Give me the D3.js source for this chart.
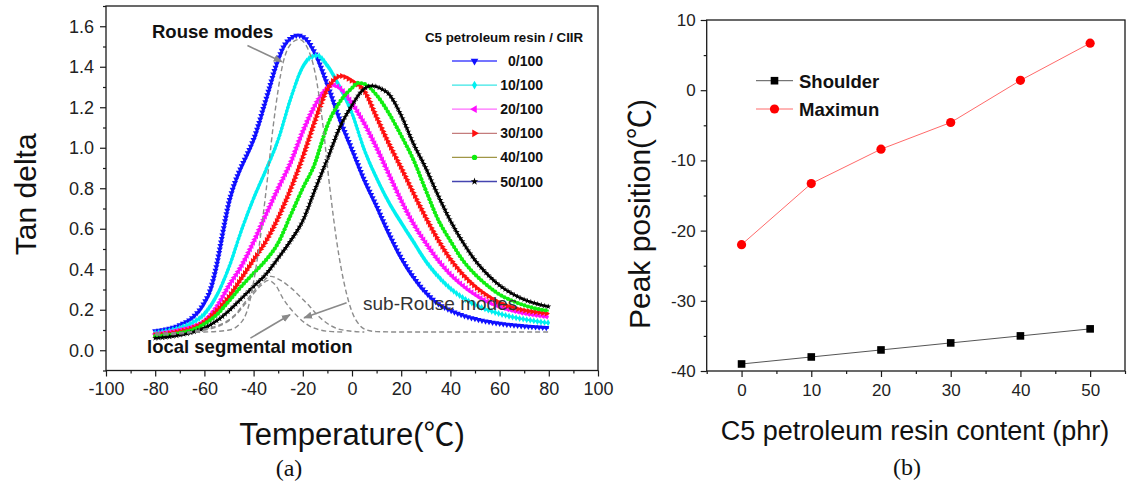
<!DOCTYPE html>
<html><head><meta charset="utf-8">
<script src="https://cdn.jsdelivr.net/npm/d3@7/dist/d3.min.js"></script>
<style>
html,body{margin:0;padding:0;background:#fff;}
svg{display:block;}
text{font-family:"Liberation Sans",Arial,"Noto Sans CJK SC",sans-serif;}
</style></head><body>
<svg id="chart" width="1128" height="484"></svg>
<script>
// ---------------- DATA (panel a) ----------------
const seriesNames = ["0/100","10/100","20/100","30/100","40/100","50/100"];
const temp0 = [-80,-75,-70,-65,-60,-57.5,-55,-52.5,-50,-47.5,-45,-42.5,-40,-35,-30,-27.5,-25,-22,-19,-15,-10,-5,0,5,10,15,20,25,30,35,40,45,50,55,60,65,70,75,80];
const tan0  = [0.095,0.105,0.125,0.16,0.235,0.3,0.42,0.58,0.73,0.83,0.905,0.97,1.04,1.235,1.435,1.505,1.54,1.555,1.54,1.465,1.31,1.14,0.99,0.84,0.71,0.575,0.455,0.36,0.285,0.23,0.197,0.172,0.155,0.142,0.132,0.125,0.119,0.114,0.11];
const temp1 = [-80,-75,-70,-65,-60,-55,-50,-45,-40,-35,-30,-25,-20,-17,-14,-10,-5,0,5,10,15,20,25,30,35,40,45,50,55,60,65,70,75,80];
const tan1  = [0.085,0.095,0.11,0.135,0.18,0.27,0.41,0.59,0.75,0.89,1.04,1.24,1.40,1.445,1.455,1.405,1.30,1.17,0.99,0.85,0.73,0.63,0.535,0.44,0.365,0.305,0.26,0.225,0.2,0.18,0.165,0.153,0.143,0.135];
const temp2 = [-80,-75,-70,-65,-60,-55,-50,-45,-40,-35,-30,-25,-20,-15,-11,-8,-5,0,5,10,15,20,25,30,35,40,45,50,55,60,65,70,75,80];
const tan2  = [0.08,0.088,0.1,0.115,0.145,0.214,0.32,0.415,0.535,0.67,0.8,0.925,1.08,1.21,1.285,1.31,1.295,1.22,1.12,1.0,0.87,0.74,0.625,0.53,0.445,0.375,0.32,0.275,0.24,0.215,0.197,0.183,0.173,0.165];
const temp3 = [-80,-75,-70,-65,-60,-55,-50,-45,-40,-35,-30,-25,-20,-15,-10,-7,-4.5,-2,0,5,10,15,20,25,30,35,40,45,50,55,60,65,70,75,80];
const tan3  = [0.075,0.082,0.093,0.108,0.14,0.195,0.265,0.355,0.447,0.538,0.655,0.795,0.955,1.135,1.29,1.34,1.355,1.345,1.33,1.28,1.15,1.02,0.9,0.775,0.655,0.545,0.45,0.375,0.315,0.27,0.235,0.212,0.197,0.188,0.18];
const temp4 = [-80,-75,-70,-65,-60,-55,-50,-45,-40,-35,-30,-25,-20,-15,-12.5,-10,-5,0,2.5,5,10,15,20,25,30,35,40,45,50,55,60,65,70,75,80];
const tan4  = [0.07,0.075,0.085,0.1,0.13,0.175,0.243,0.315,0.38,0.445,0.53,0.665,0.8,0.925,1.02,1.11,1.225,1.295,1.32,1.315,1.26,1.17,1.06,0.94,0.79,0.645,0.54,0.445,0.375,0.32,0.275,0.245,0.222,0.205,0.195];
const temp5 = [-80,-75,-70,-65,-60,-55,-50,-45,-40,-35,-30,-25,-20,-15,-10,-5,0,4,8,12,15,20,25,30,35,40,45,50,55,60,65,70,75,80];
const tan5  = [0.06,0.065,0.075,0.088,0.11,0.145,0.195,0.255,0.315,0.375,0.455,0.54,0.64,0.795,0.945,1.1,1.21,1.28,1.306,1.29,1.265,1.16,1.02,0.9,0.765,0.64,0.535,0.445,0.375,0.32,0.28,0.25,0.23,0.215];

// fitted components (dashed)
const rouseT = [-80,-70,-60,-55,-50,-46,-42,-38.5,-35,-32,-28,-25,-21.5,-18,-15,-12,-9,-6,-3,0,3,6,10,20,40,60,80];
const rouseV = [0.085,0.087,0.09,0.093,0.1,0.125,0.22,0.45,0.78,1.11,1.42,1.51,1.535,1.49,1.37,1.13,0.8,0.52,0.32,0.19,0.125,0.1,0.092,0.09,0.09,0.09,0.09];
const subRouseT = [-80,-70,-62,-55,-48,-42,-37,-33,-29,-25,-21,-17,-14,-10,-6,-1,5];
const subRouseV = [0.08,0.085,0.1,0.12,0.17,0.26,0.33,0.365,0.345,0.31,0.264,0.214,0.173,0.132,0.107,0.095,0.09];
const localT = [-80,-70,-62,-55,-48,-42,-37,-34,-31,-28,-25,-22,-18,-13,-8,-3];
const localV = [0.075,0.08,0.095,0.115,0.165,0.25,0.32,0.345,0.32,0.255,0.205,0.165,0.125,0.1,0.092,0.09];

const xTicksA = [-100,-80,-60,-40,-20,0,20,40,60,80,100];
const yTicksA = [0.0,0.2,0.4,0.6,0.8,1.0,1.2,1.4,1.6];

// ---------------- DATA (panel b) ----------------
const resinContent = [0,10,20,30,40,50];
const shoulderPos = [-39,-38,-37,-36,-35,-34];
const maximumPos  = [-22,-13.3,-8.4,-4.6,1.4,6.7];
const xTicksB = [0,10,20,30,40,50];
const yTicksB = [-40,-30,-20,-10,0,10];

// ---------------- DRAW ----------------
const svg = d3.select("#chart");
const axisColor = "#1a1a1a";
const fmtInt = d => String(d);            // plain hyphen-minus like the reference
const fmt1 = d => d.toFixed(1);

const xA = d3.scaleLinear().domain([-100,100]).range([106,598]);
const yA = d3.scaleLinear().domain([-0.1,1.7]).range([370.5,6]);

function styleAxis(g, fs){
  g.selectAll("path.domain").remove();
  g.selectAll("line").attr("stroke",axisColor).attr("stroke-width",1.2);
  g.selectAll("text").attr("fill","#222").style("font-size",fs+"px").attr("font-family","'Liberation Sans',Arial,sans-serif");
}
function titleWithDegree(sel, before, after){
  sel.append("tspan").text(before);
  sel.append("tspan").style("font-family","'Noto Sans CJK SC','Noto Sans CJK JP',sans-serif").text("℃");
  sel.append("tspan").text(after);
}

const gA = svg.append("g");
gA.append("rect").attr("x",xA(-100)).attr("y",yA(1.7)).attr("width",xA(100)-xA(-100)).attr("height",yA(-0.1)-yA(1.7))
  .attr("fill","none").attr("stroke",axisColor).attr("stroke-width",1.3);

const xMinorA = d3.range(-100,101,10).filter(d=>d%20!==0);
gA.append("g").attr("transform",`translate(0,${yA(-0.1)})`)
  .call(d3.axisBottom(xA).tickValues(xMinorA).tickSize(3).tickFormat("")).call(g=>styleAxis(g,18));
gA.append("g").attr("transform",`translate(0,${yA(-0.1)})`)
  .call(d3.axisBottom(xA).tickValues(xTicksA).tickSize(6).tickPadding(6).tickFormat(fmtInt)).call(g=>styleAxis(g,18));
const yMinorA = d3.range(-1,18,2).map(d=>d/10);
gA.append("g").attr("transform",`translate(${xA(-100)},0)`)
  .call(d3.axisLeft(yA).tickValues(yMinorA).tickSize(3).tickFormat("")).call(g=>styleAxis(g,18));
gA.append("g").attr("transform",`translate(${xA(-100)},0)`)
  .call(d3.axisLeft(yA).tickValues(yTicksA).tickSize(6).tickPadding(6).tickFormat(fmt1)).call(g=>styleAxis(g,18));

gA.append("text").attr("x",(xA(-100)+xA(100))/2).attr("y",445).attr("text-anchor","middle")
  .style("font-size","31px").attr("fill","#111").call(s=>titleWithDegree(s,"Temperature(",")"));
gA.append("text").attr("transform",`translate(36,${(yA(-0.1)+yA(1.7))/2 + 6}) rotate(-90)`).attr("text-anchor","middle")
  .style("font-size","30px").attr("fill","#111").text("Tan delta");
gA.append("text").attr("x",289).attr("y",476).attr("text-anchor","middle")
  .style("font-family","'Liberation Serif','Times New Roman',serif").style("font-size","24px").attr("fill","#111").text("(a)");

// curves
const seriesT = [temp0,temp1,temp2,temp3,temp4,temp5];
const seriesV = [tan0,tan1,tan2,tan3,tan4,tan5];
const markColors = ["#1010ff","#00f0f0","#ff10ff","#ff1010","#10ee10","#000000"];
const legendLineColors = ["#4646ff","#3ae6e6","#ff6cff","#c47c7c","#a09646","#4444b0"];
const symTypes = [d3.symbolTriangle,d3.symbolDiamond,d3.symbolTriangle,d3.symbolTriangle,d3.symbolCircle,d3.symbolStar];
const symRot = [180,0,-90,90,0,0];
const symSize = [16,14,16,16,14,11];

const lineA = d3.line().x(d=>xA(d[0])).y(d=>yA(d[1])).curve(d3.curveMonotoneX);
const curvesG = gA.append("g");
seriesNames.forEach((name,i)=>{
  const data = seriesT[i].map((t,j)=>[t,seriesV[i][j]]);
  const path = curvesG.append("path").datum(data).attr("d",lineA)
    .attr("fill","none").attr("stroke",markColors[i]).attr("stroke-width",2);
  const node = path.node();
  const L = node.getTotalLength();
  const pts = [];
  for(let s=0;s<=L;s+=3.6){ const p=node.getPointAtLength(s); pts.push([p.x,p.y]); }
  const sym = d3.symbol().type(symTypes[i]).size(symSize[i]);
  curvesG.append("g").selectAll("path").data(pts).join("path")
    .attr("d",sym).attr("transform",d=>`translate(${d[0]},${d[1]}) rotate(${symRot[i]})`)
    .attr("fill",markColors[i]);
});

// dashed components
const dashG = gA.append("g");
[[rouseT,rouseV],[subRouseT,subRouseV],[localT,localV]].forEach(([T,V])=>{
  dashG.append("path").datum(T.map((t,j)=>[t,V[j]])).attr("d",lineA)
    .attr("fill","none").attr("stroke","#8c8c8c").attr("stroke-width",1.4).attr("stroke-dasharray","5,3");
});

// annotations
const defs = svg.append("defs");
defs.append("marker").attr("id","arr").attr("viewBox","0 0 10 10").attr("refX",9).attr("refY",5)
  .attr("markerWidth",9).attr("markerHeight",9).attr("orient","auto-start-reverse").attr("markerUnits","userSpaceOnUse")
  .append("path").attr("d","M0,1 L10,5 L0,9 Z").attr("fill","#8a8a8a");
function arrow(t1,v1,t2,v2){
  gA.append("line").attr("x1",xA(t1)).attr("y1",yA(v1)).attr("x2",xA(t2)).attr("y2",yA(v2))
    .attr("stroke","#8a8a8a").attr("stroke-width",1.6).attr("marker-end","url(#arr)");
}
arrow(-42.5,1.505,-28.5,1.425);
arrow(-41.3,0.06,-25.2,0.175);
arrow(-2.2,0.235,-19.5,0.16);

gA.append("text").attr("x",152).attr("y",38).style("font-size","18.5px").style("font-weight","bold").attr("fill","#111").text("Rouse modes");
gA.append("text").attr("x",147).attr("y",353).style("font-size","18.5px").style("font-weight","bold").attr("fill","#111").text("local segmental motion");
gA.append("text").attr("x",363).attr("y",310).style("font-size","19px").attr("fill","#333").text("sub-Rouse modes");

// legend a
const lg = gA.append("g");
lg.append("text").attr("x",425).attr("y",42).style("font-size","13.3px").style("font-weight","bold").attr("fill","#111").text("C5 petroleum resin / CIIR");
seriesNames.forEach((name,i)=>{
  const y = 61 + i*24.1;
  lg.append("line").attr("x1",452).attr("x2",497).attr("y1",y).attr("y2",y).attr("stroke",legendLineColors[i]).attr("stroke-width",1.3);
  lg.append("path").attr("d",d3.symbol().type(symTypes[i]).size(symSize[i]*1.6)())
    .attr("transform",`translate(474.5,${y}) rotate(${symRot[i]})`).attr("fill",markColors[i]);
  lg.append("text").attr("x",543).attr("y",y+5).attr("text-anchor","end").style("font-size","14px").style("font-weight","bold").attr("fill","#111").text(name);
});

// ---------------- panel b ----------------
const xB = d3.scaleLinear().domain([-5,55]).range([706.7,1125]);
const yB = d3.scaleLinear().domain([-40,10]).range([371,20]);
const gB = svg.append("g");
gB.append("rect").attr("x",xB(-5)).attr("y",yB(10)).attr("width",xB(55)-xB(-5)).attr("height",yB(-40)-yB(10))
  .attr("fill","none").attr("stroke",axisColor).attr("stroke-width",1.3);
gB.append("g").attr("transform",`translate(0,${yB(-40)})`)
  .call(d3.axisBottom(xB).tickValues(d3.range(-5,56,10)).tickSize(3).tickFormat("")).call(g=>styleAxis(g,17));
gB.append("g").attr("transform",`translate(0,${yB(-40)})`)
  .call(d3.axisBottom(xB).tickValues(xTicksB).tickSize(6).tickPadding(7).tickFormat(fmtInt)).call(g=>styleAxis(g,17));
gB.append("g").attr("transform",`translate(${xB(-5)},0)`)
  .call(d3.axisLeft(yB).tickValues(d3.range(-35,10,10)).tickSize(3).tickFormat("")).call(g=>styleAxis(g,17));
gB.append("g").attr("transform",`translate(${xB(-5)},0)`)
  .call(d3.axisLeft(yB).tickValues(yTicksB).tickSize(6).tickPadding(5).tickFormat(fmtInt)).call(g=>styleAxis(g,17));

gB.append("text").attr("x",915).attr("y",440).attr("text-anchor","middle").style("font-size","27px").attr("fill","#111").text("C5 petroleum resin content (phr)");
gB.append("text").attr("transform",`translate(650,214) rotate(-90)`).attr("text-anchor","middle").style("font-size","30px").attr("fill","#111")
  .call(s=>titleWithDegree(s,"Peak position(",")"));
gB.append("text").attr("x",907).attr("y",475).attr("text-anchor","middle")
  .style("font-family","'Liberation Serif','Times New Roman',serif").style("font-size","24px").attr("fill","#111").text("(b)");

const lineB = d3.line().x(d=>xB(d[0])).y(d=>yB(d[1]));
const shData = resinContent.map((c,i)=>[c,shoulderPos[i]]);
const mxData = resinContent.map((c,i)=>[c,maximumPos[i]]);
gB.append("path").datum(shData).attr("d",lineB).attr("fill","none").attr("stroke","#555").attr("stroke-width",1);
gB.append("path").datum(mxData).attr("d",lineB).attr("fill","none").attr("stroke","#ff6a6a").attr("stroke-width",1);
gB.selectAll("rect.sq").data(shData).join("rect").attr("class","sq")
  .attr("x",d=>xB(d[0])-3.8).attr("y",d=>yB(d[1])-3.8).attr("width",7.6).attr("height",7.6).attr("fill","#000");
gB.selectAll("circle.ci").data(mxData).join("circle").attr("class","ci")
  .attr("cx",d=>xB(d[0])).attr("cy",d=>yB(d[1])).attr("r",4.6).attr("fill","#ff0000");

const lgb = gB.append("g");
lgb.append("line").attr("x1",756).attr("x2",793).attr("y1",80.7).attr("y2",80.7).attr("stroke","#555").attr("stroke-width",1);
lgb.append("rect").attr("x",774.5-3.8).attr("y",80.7-3.8).attr("width",7.6).attr("height",7.6).attr("fill","#000");
lgb.append("text").attr("x",799).attr("y",87.5).style("font-size","18.5px").style("font-weight","bold").attr("fill","#111").text("Shoulder");
lgb.append("line").attr("x1",756).attr("x2",793).attr("y1",109).attr("y2",109).attr("stroke","#ff6a6a").attr("stroke-width",1);
lgb.append("circle").attr("cx",774.5).attr("cy",109).attr("r",4.6).attr("fill","#ff0000");
lgb.append("text").attr("x",799).attr("y",115.8).style("font-size","18.5px").style("font-weight","bold").attr("fill","#111").text("Maximun");
</script>
</body></html>
